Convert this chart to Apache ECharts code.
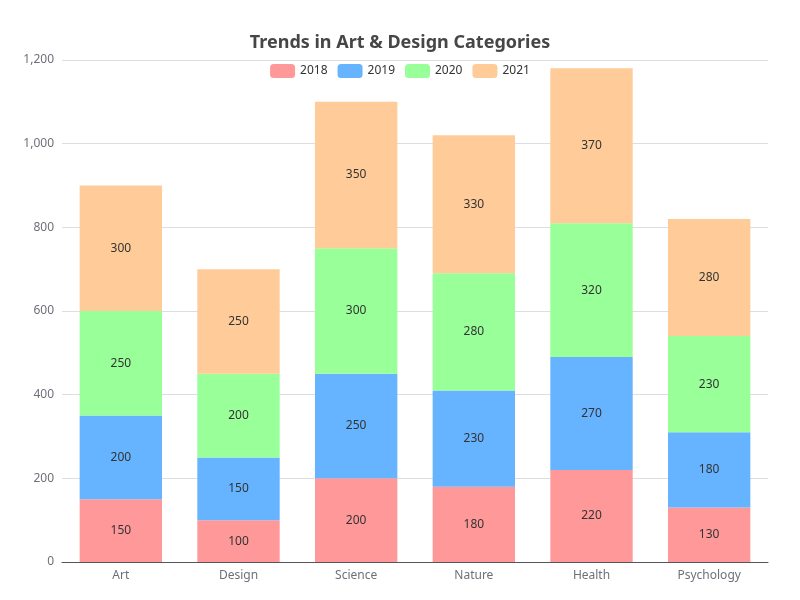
<!DOCTYPE html>
<html>
<head>
<meta charset="utf-8">
<script src="https://cdn.jsdelivr.net/npm/echarts@6/dist/echarts.min.js"></script>
<style>
  html, body { margin: 0; padding: 0; background: #fff; }
  #main { width: 800px; height: 600px; }
</style>
</head>
<body>
<div id="main"></div>
<script>
const categories = ['Art', 'Design', 'Science', 'Nature', 'Health', 'Psychology'];
const years = ['2018', '2019', '2020', '2021'];
const values2018 = [150, 100, 200, 180, 220, 130];
const values2019 = [200, 150, 250, 230, 270, 180];
const values2020 = [250, 200, 300, 280, 320, 230];
const values2021 = [300, 250, 350, 330, 370, 280];
const colors = ['#FF9999', '#66B3FF', '#99FF99', '#FFCC99'];

const chart = echarts.init(document.getElementById('main'));

const seriesData = [values2018, values2019, values2020, values2021];

chart.setOption({
    color: colors,
    textStyle: { fontFamily: 'Noto Sans' },
    title: {
        text: 'Trends in Art & Design Categories',
        left: 'center',
        top: 29,
        textStyle: { fontSize: 18, fontWeight: 'bold', color: '#464646', fontFamily: 'Noto Sans' }
    },
    legend: {
        data: years,
        top: 59,
        itemWidth: 25,
        itemHeight: 14,
        itemGap: 10,
        textStyle: { color: '#333', fontSize: 12 }
    },
    grid: { left: 62, right: 32, top: 60, bottom: 38 },
    xAxis: {
        type: 'category',
        data: categories,
        axisLabel: { color: '#6E7079', fontSize: 12 }
    },
    yAxis: {
        type: 'value',
        min: 0,
        max: 1200,
        interval: 200,
        axisLabel: { color: '#6E7079', fontSize: 12 }
    },
    series: years.map((y, i) => ({
        name: y,
        type: 'bar',
        stack: 'total',
        barWidth: '70%',
        data: seriesData[i],
        label: { show: true, position: 'inside', color: '#333', fontSize: 12 }
    }))
});
</script>
</body>
</html>
